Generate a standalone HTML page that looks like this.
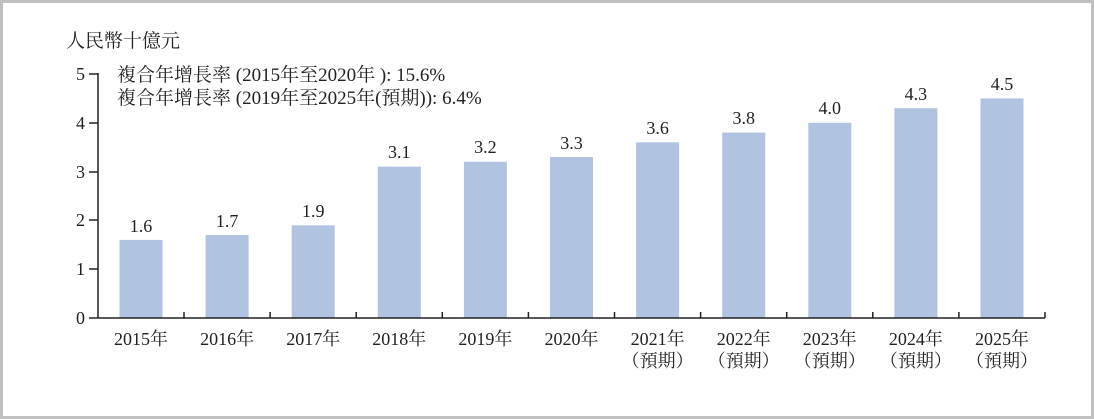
<!DOCTYPE html>
<html><head><meta charset="utf-8"><style>
html,body{margin:0;padding:0;background:#fff;}
svg{display:block;}
text{font-family:"Liberation Serif","Noto Serif CJK SC",serif;fill:#222;font-size:18px;}
</style></head><body>
<svg width="1094" height="419" viewBox="0 0 1094 419">
<rect x="1.5" y="1.5" width="1091" height="416" fill="#fff" stroke="#c0c0c0" stroke-width="3"/>
<text x="66" y="47" style="font-size:19px">人民幣十億元</text>
<text x="117" y="81" style="font-size:19px">複合年增長率 (2015年至2020年 ): 15.6%</text>
<text x="117" y="104" style="font-size:19px">複合年增長率 (2019年至2025年(預期)): 6.4%</text>
<g fill="#b0c4e2">
<rect x="119.5" y="239.9" width="43" height="78.1"/>
<rect x="205.6" y="235" width="43" height="83"/>
<rect x="291.7" y="225.3" width="43" height="92.7"/>
<rect x="377.8" y="166.7" width="43" height="151.3"/>
<rect x="463.9" y="161.8" width="43" height="156.2"/>
<rect x="550" y="157" width="43" height="161"/>
<rect x="636.1" y="142.3" width="43" height="175.7"/>
<rect x="722.2" y="132.6" width="43" height="185.4"/>
<rect x="808.3" y="122.8" width="43" height="195.2"/>
<rect x="894.4" y="108.2" width="43" height="209.8"/>
<rect x="980.5" y="98.4" width="43" height="219.6"/>
</g>
<g stroke="#222" stroke-width="1.5" fill="none">
<line x1="98" y1="73" x2="98" y2="318"/>
<line x1="98" y1="318" x2="1045" y2="318"/>
<line x1="89" y1="74" x2="98" y2="74"/>
<line x1="89" y1="123" x2="98" y2="123"/>
<line x1="89" y1="172" x2="98" y2="172"/>
<line x1="89" y1="220" x2="98" y2="220"/>
<line x1="89" y1="269" x2="98" y2="269"/>
<line x1="89" y1="318" x2="98" y2="318"/>
<line x1="184" y1="312" x2="184" y2="318"/>
<line x1="270.1" y1="312" x2="270.1" y2="318"/>
<line x1="356.2" y1="312" x2="356.2" y2="318"/>
<line x1="442.3" y1="312" x2="442.3" y2="318"/>
<line x1="528.4" y1="312" x2="528.4" y2="318"/>
<line x1="614.5" y1="312" x2="614.5" y2="318"/>
<line x1="700.6" y1="312" x2="700.6" y2="318"/>
<line x1="786.7" y1="312" x2="786.7" y2="318"/>
<line x1="872.8" y1="312" x2="872.8" y2="318"/>
<line x1="958.9" y1="312" x2="958.9" y2="318"/>
<line x1="1045" y1="312" x2="1045" y2="318"/>
</g>
<g text-anchor="end">
<text x="85" y="80">5</text><text x="85" y="129">4</text><text x="85" y="178">3</text><text x="85" y="226">2</text><text x="85" y="275">1</text><text x="85" y="324">0</text>
</g>
<g text-anchor="middle">
<text x="141" y="232">1.6</text>
<text x="227.1" y="227">1.7</text>
<text x="313.2" y="217">1.9</text>
<text x="399.3" y="158">3.1</text>
<text x="485.4" y="153">3.2</text>
<text x="571.5" y="149">3.3</text>
<text x="657.6" y="134">3.6</text>
<text x="743.7" y="124">3.8</text>
<text x="829.8" y="114">4.0</text>
<text x="915.9" y="100">4.3</text>
<text x="1002" y="90">4.5</text>
<text x="141" y="345">2015年</text>
<text x="227.1" y="345">2016年</text>
<text x="313.2" y="345">2017年</text>
<text x="399.3" y="345">2018年</text>
<text x="485.4" y="345">2019年</text>
<text x="571.5" y="345">2020年</text>
<text x="657.6" y="345">2021年</text>
<text x="743.7" y="345">2022年</text>
<text x="829.8" y="345">2023年</text>
<text x="915.9" y="345">2024年</text>
<text x="1002" y="345">2025年</text>
<text x="657.6" y="367">（預期）</text>
<text x="743.7" y="367">（預期）</text>
<text x="829.8" y="367">（預期）</text>
<text x="915.9" y="367">（預期）</text>
<text x="1002" y="367">（預期）</text>
</g>
</svg>
</body></html>
